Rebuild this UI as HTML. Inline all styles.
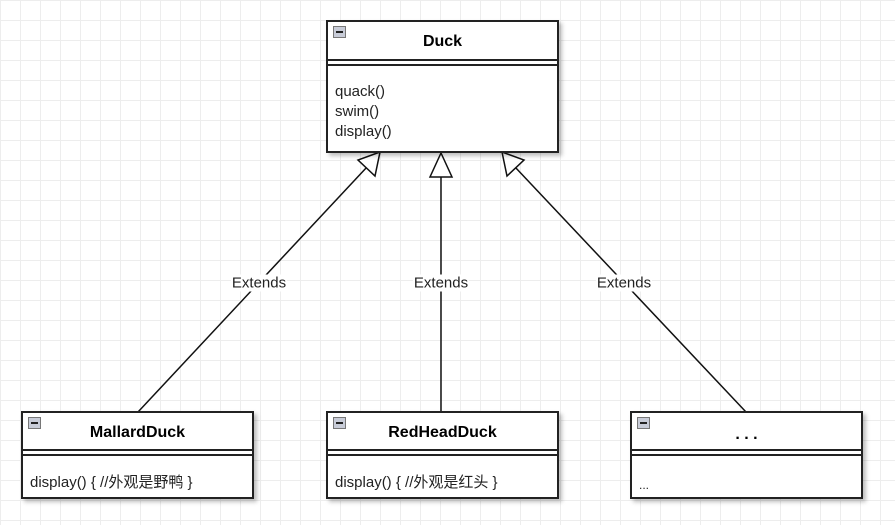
<!DOCTYPE html>
<html><head><meta charset="utf-8"><style>
body{margin:0;width:895px;height:525px;overflow:hidden;background:#fff;
background-image:linear-gradient(#ededed 1px,transparent 1px),linear-gradient(90deg,#ededed 1px,transparent 1px);background-size:20px 20px;
font-family:"Liberation Sans","Noto Sans CJK SC",sans-serif;position:relative}
.box{position:absolute;background:#fff;border:2px solid #222;box-sizing:border-box;box-shadow:3px 3px 4px rgba(0,0,0,.25)}
.hd{position:absolute;left:0;right:0;top:0;border-bottom:2px solid #222;text-align:center;font-weight:bold;font-size:16px}
.sep{position:absolute;left:0;right:0;border-bottom:2px solid #222}
.ic{position:absolute;left:5px;top:4px;width:11px;height:10px;background:#c8ccd8;border:1px solid #777}
.ic:after{content:"";position:absolute;left:2px;right:2px;top:4px;height:2px;background:#222}
.body{position:absolute;left:7px;font-size:15px;color:#222;line-height:20px}
.lbl{position:absolute;background:#fff;font-size:15px;color:#222;transform:translate(-50%,-50%);padding:0 1px}
</style></head><body>
<svg width="895" height="525" style="position:absolute;left:0;top:0">
<g stroke="#111" stroke-width="1.5" fill="#fff">
<line x1="138" y1="412" x2="367" y2="167"/>
<polygon points="380,152 358,160 375,176"/>
<line x1="441" y1="412" x2="441" y2="177"/>
<polygon points="441,153 430,177 452,177"/>
<line x1="746" y1="412" x2="515" y2="167"/>
<polygon points="502,152 507,176 524,160"/>
</g></svg>
<div class="box" style="left:326px;top:20px;width:233px;height:133px">
<div class="hd" style="height:37px;line-height:40px">Duck</div><div class="ic"></div>
<div class="sep" style="top:42px"></div>
<div class="body" style="top:60px">quack()<br>swim()<br>display()</div></div>
<div class="box" style="left:21px;top:411px;width:233px;height:88px">
<div class="hd" style="height:36px;line-height:40px">MallardDuck</div><div class="ic"></div>
<div class="sep" style="top:41px"></div>
<div class="body" style="top:60px">display() { //外观是野鸭 }</div></div>
<div class="box" style="left:326px;top:411px;width:233px;height:88px">
<div class="hd" style="height:36px;line-height:40px">RedHeadDuck</div><div class="ic"></div>
<div class="sep" style="top:41px"></div>
<div class="body" style="top:60px">display() { //外观是红头 }</div></div>
<div class="box" style="left:630px;top:411px;width:233px;height:88px">
<div class="hd" style="height:36px;line-height:44px">. . .</div><div class="ic"></div>
<div class="sep" style="top:41px"></div>
<div class="body" style="top:62px;font-size:12px">...</div></div>
<div class="lbl" style="left:259px;top:283px">Extends</div>
<div class="lbl" style="left:441px;top:283px">Extends</div>
<div class="lbl" style="left:624px;top:283px">Extends</div>
</body></html>
